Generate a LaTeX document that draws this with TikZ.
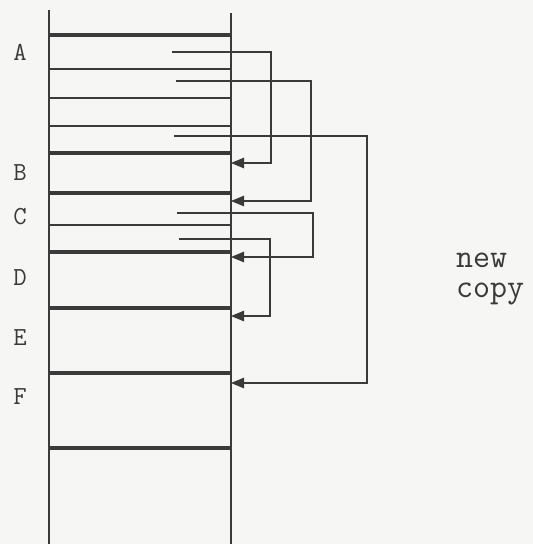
\documentclass[tikz,border=0pt]{standalone}
\usepackage{tikz}
\usetikzlibrary{arrows.meta}
\definecolor{ink}{HTML}{3A3A3A}
\definecolor{paper}{HTML}{F6F6F4}
\tikzset{
  wall/.style={draw=ink,line width=1.2pt},
  slot/.style={draw=ink,line width=3.2pt},
  sep/.style={draw=ink,line width=1.1pt},
  ptr/.style={draw=ink,line width=1.1pt,-{Triangle[length=13pt,width=10.5pt]}},
  lbl/.style={font=\fontsize{26}{28}\selectfont\ttfamily,text=ink,inner sep=0pt},
  note/.style={font=\fontsize{33}{30}\selectfont\ttfamily,text=ink,inner sep=0pt,align=left},
}
\begin{document}
\begin{tikzpicture}[x=1pt,y=-1pt]
  \fill[paper] (0,0) rectangle (533,544);
  \useasboundingbox (0,0) rectangle (533,544);
  % the two walls of the store
  \coordinate (wl) at (49,10);
  \coordinate (wr) at (231,13);
  \draw[wall] (wl) -- (49,544);
  \draw[wall] (wr) -- (231,544);
  % block boundaries, then the words inside
  \foreach \y in {35,153,193,252,308,373,448} \draw[slot] (49,\y) -- (231,\y);
  \foreach \y in {69,98,126,225} \draw[sep] (49,\y) -- (231,\y);
  % block names
  \foreach \n/\y in {A/52,B/173,C/217,D/278,E/338,F/397}
    \node[lbl] (l\n) at (20,\y) {\n};
  % pointers out of the old blocks into the new ones
  \foreach \i/\x/\y in {1/172/52,2/176/81,3/174/136,4/177/213,5/179/239}
    \coordinate (s\i) at (\x,\y);
  \foreach \n/\y in {B/163,C/201,D/257,E/316,F/383}
    \coordinate (t\n) at (231,\y);
  \foreach \i/\t/\d in {1/B/99,2/C/135,3/F/193,4/D/136,5/E/91}
    \draw[ptr] (s\i) -- ++(\d,0) |- (t\t);
  \node[note,anchor=west] (newcopy) at (456,279) {new\\copy};
\end{tikzpicture}
\end{document}
